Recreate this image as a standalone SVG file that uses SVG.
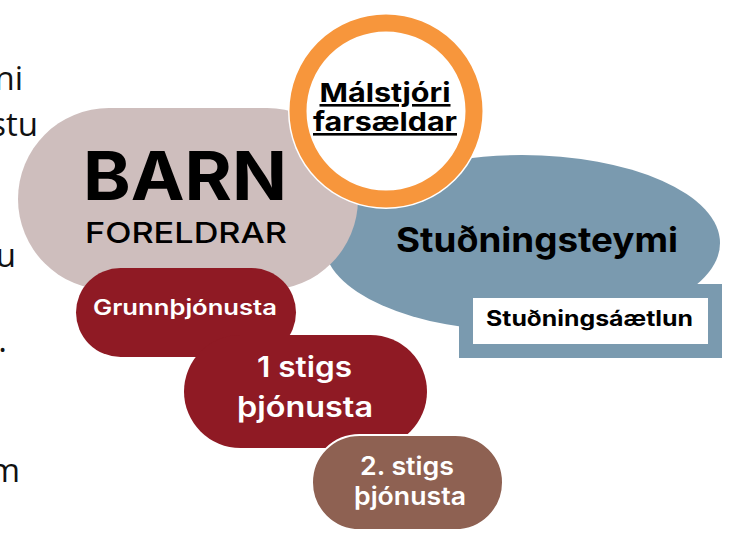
<svg xmlns="http://www.w3.org/2000/svg" width="731" height="541" viewBox="0 0 731 541">
<style>
.side{font-family:"Open Sans","Noto Sans",sans-serif;font-size:33px;fill:#111;text-anchor:end}
.m{font-family:Inter,"Liberation Sans",sans-serif;text-anchor:middle}
.b{font-weight:700}
.sb{font-weight:600}
.w{fill:#ffffff}
.k{fill:#000000}
</style>
<rect width="731" height="541" fill="#ffffff"/>
<g id="side-text">
<text class="side" x="23" y="90">ni</text>
<text class="side" x="38" y="136">stu</text>
<text class="side" x="16" y="267">u</text>
<text class="side" x="7" y="352">.</text>
<text class="side" x="20" y="482">m</text>
</g>
<g id="studningsteymi">
<ellipse cx="522" cy="243" rx="198" ry="88" fill="#7A9AAF"/>
<text class="m b k" x="537" y="252" font-size="34" textLength="282" lengthAdjust="spacingAndGlyphs">Stuðningsteymi</text>
</g>
<g id="barn">
<rect x="18" y="108" width="340" height="182" rx="91" fill="#CEBEBD"/>
<text class="m b k" x="185" y="200" font-size="67" textLength="204" lengthAdjust="spacingAndGlyphs">BARN</text>
<text class="m k" x="186" y="243" font-size="29" font-weight="500" textLength="202" lengthAdjust="spacingAndGlyphs">FORELDRAR</text>
</g>
<g id="malstjori">
<circle cx="386" cy="111" r="98" fill="#ffffff"/>
<circle cx="386" cy="111" r="88" fill="#ffffff" stroke="#F7963C" stroke-width="17"/>
<text class="m b k" x="385" y="102" font-size="26" text-decoration="underline" textLength="131" lengthAdjust="spacingAndGlyphs">Málstjóri</text>
<text class="m b k" x="385" y="131" font-size="26" text-decoration="underline" textLength="144" lengthAdjust="spacingAndGlyphs">farsældar</text>
</g>
<g id="studningsaaetlun">
<rect x="459" y="284" width="263" height="74" fill="#7A9AAF"/>
<rect x="473" y="298" width="235" height="46" fill="#ffffff"/>
<text class="m b k" x="589.5" y="326" font-size="21" textLength="207" lengthAdjust="spacingAndGlyphs">Stuðningsáætlun</text>
</g>
<g id="grunnthjonusta">
<rect x="76" y="268" width="220" height="89" rx="44.5" fill="#8F1A24"/>
<text class="m sb w" x="185" y="315" font-size="21" textLength="184" lengthAdjust="spacingAndGlyphs">Grunnþjónusta</text>
</g>
<g id="stig1">
<rect x="184" y="335" width="243" height="113" rx="56.5" fill="#8F1A24"/>
<text class="m sb w" x="304.5" y="377" font-size="28" textLength="95" lengthAdjust="spacingAndGlyphs">1 stigs</text>
<text class="m sb w" x="305" y="417" font-size="28" textLength="136" lengthAdjust="spacingAndGlyphs">þjónusta</text>
</g>
<g id="stig2">
<rect x="312" y="435" width="191" height="95" rx="47.5" fill="#8E6152" stroke="#ffffff" stroke-width="2"/>
<text class="m sb w" x="407" y="475" font-size="25" textLength="94" lengthAdjust="spacingAndGlyphs">2. stigs</text>
<text class="m sb w" x="410" y="505" font-size="25" textLength="112" lengthAdjust="spacingAndGlyphs">þjónusta</text>
</g>
<g id="connectors"></g>
</svg>
